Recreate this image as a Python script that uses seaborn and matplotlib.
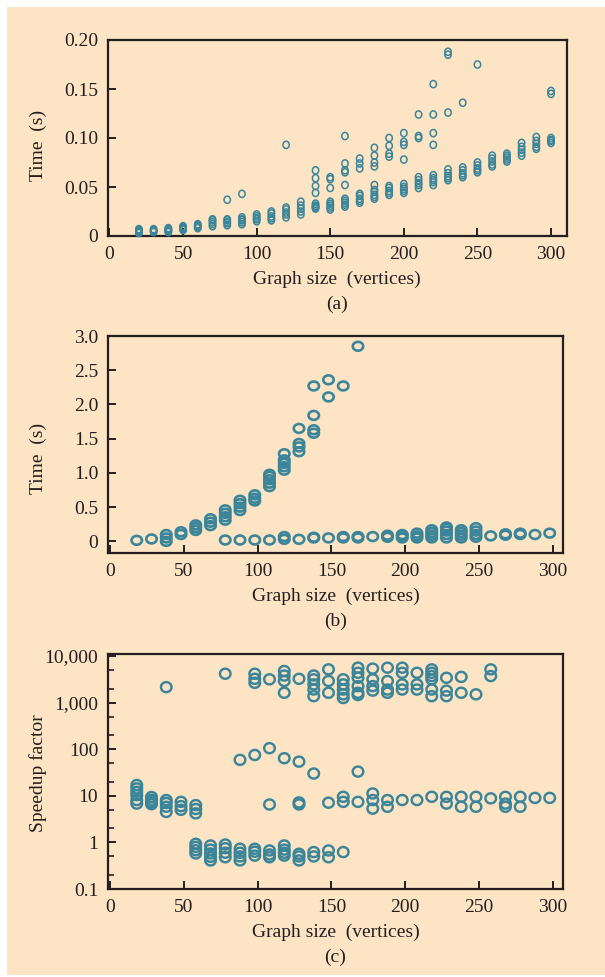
import numpy as np
import pandas as pd
import matplotlib
matplotlib.use("Agg")
import matplotlib.pyplot as plt
from matplotlib.path import Path
from matplotlib.patches import Rectangle
from matplotlib.ticker import LogLocator, NullFormatter
import seaborn as sns

PEACH = "#FCE4C4"
TEAL = "#3A8599"
INK = "#231F20"

# ---- (a) time vs graph size, fast algorithm ----
a_sizes = [20, 30, 40, 50, 60, 70, 80, 90, 100, 110, 120, 130, 140, 150, 160,
           170, 180, 190, 200, 210, 220, 230, 240, 250, 260, 270, 280, 290, 300]
a_main = [
    [0.003, 0.004, 0.005, 0.006, 0.007],
    [0.004, 0.005, 0.006, 0.007],
    [0.004, 0.005, 0.006, 0.007, 0.008],
    [0.006, 0.007, 0.008, 0.009, 0.010],
    [0.008, 0.009, 0.010, 0.011, 0.012],
    [0.010, 0.012, 0.014, 0.016, 0.017],
    [0.011, 0.013, 0.014, 0.016, 0.017],
    [0.012, 0.014, 0.016, 0.017, 0.019],
    [0.015, 0.017, 0.018, 0.020, 0.022],
    [0.016, 0.018, 0.020, 0.023, 0.025],
    [0.019, 0.022, 0.024, 0.027, 0.029],
    [0.022, 0.025, 0.028, 0.031, 0.035],
    [0.028, 0.029, 0.030, 0.031, 0.033],
    [0.027, 0.029, 0.031, 0.033, 0.035],
    [0.030, 0.032, 0.034, 0.036, 0.038],
    [0.034, 0.036, 0.038, 0.041, 0.043],
    [0.038, 0.040, 0.042, 0.045, 0.047, 0.052],
    [0.042, 0.044, 0.046, 0.049, 0.051],
    [0.044, 0.046, 0.048, 0.050, 0.053],
    [0.049, 0.052, 0.054, 0.057, 0.060],
    [0.052, 0.055, 0.057, 0.059, 0.062],
    [0.057, 0.059, 0.061, 0.064, 0.068],
    [0.060, 0.062, 0.064, 0.067, 0.070],
    [0.065, 0.067, 0.069, 0.072, 0.075],
    [0.071, 0.073, 0.076, 0.079, 0.082],
    [0.076, 0.078, 0.080, 0.082, 0.084],
    [0.082, 0.085, 0.088, 0.091, 0.095],
    [0.089, 0.091, 0.094, 0.097, 0.101],
    [0.095, 0.097, 0.098, 0.100],
]
a_out_x = [80, 90, 120, 140, 140, 140, 140, 150, 150, 150, 160, 160, 160, 160, 160,
           170, 170, 170, 180, 180, 180, 180, 190, 190, 190, 190, 200, 200, 200, 200,
           210, 210, 210, 220, 220, 220, 220, 230, 230, 230, 240, 250, 300, 300]
a_out_y = [0.037, 0.043, 0.093, 0.044, 0.051, 0.059, 0.067, 0.049, 0.058, 0.060,
           0.052, 0.065, 0.067, 0.074, 0.102, 0.069, 0.074, 0.079,
           0.071, 0.075, 0.082, 0.090, 0.081, 0.084, 0.092, 0.100,
           0.078, 0.093, 0.096, 0.105, 0.100, 0.102, 0.124,
           0.093, 0.105, 0.124, 0.155, 0.126, 0.185, 0.188, 0.136, 0.175, 0.145, 0.148]

# ---- (b) time vs graph size, two algorithms ----
b_slow_sizes = [18, 28, 38, 48, 58, 68, 78, 88, 98, 108, 118, 128, 138, 148, 158, 168]
b_slow = [
    [0.015], [0.035], [0.0, 0.05, 0.10], [0.10, 0.14], [0.16, 0.20, 0.24],
    [0.23, 0.28, 0.33], [0.31, 0.36, 0.41, 0.46], [0.45, 0.50, 0.55, 0.60],
    [0.59, 0.63, 0.68], [0.80, 0.85, 0.90, 0.95, 0.98], [1.04, 1.09, 1.14, 1.19, 1.28],
    [1.31, 1.38, 1.43, 1.65], [1.58, 1.63, 1.84, 2.27], [2.11, 2.36], [2.27], [2.85],
]
b_fast_sizes = [78, 88, 98, 108, 118, 128, 138, 148, 158, 168, 178, 188, 198, 208,
                218, 228, 238, 248, 258, 268, 278, 288, 298]
b_fast = [
    [0.02], [0.02], [0.02], [0.02], [0.03, 0.07], [0.03], [0.05, 0.06], [0.05],
    [0.05, 0.07], [0.05, 0.07], [0.07], [0.06, 0.09], [0.05, 0.08, 0.10],
    [0.05, 0.08, 0.12], [0.05, 0.09, 0.13, 0.17], [0.05, 0.10, 0.15, 0.19, 0.21],
    [0.05, 0.09, 0.13, 0.17], [0.06, 0.10, 0.15, 0.20], [0.08], [0.09, 0.11],
    [0.10, 0.12], [0.10], [0.12],
]

# ---- (c) speedup factor ----
c_sizes = [18, 28, 38, 48, 58, 68, 78, 88, 98, 108, 118, 128, 138, 148, 158,
           168, 178, 188, 198, 208, 218, 228, 238, 248, 258, 268, 278, 288, 298]
c_speedup = [
    [6.8, 8.1, 10.3, 12.2, 14.4, 17],
    [6.6, 7.3, 8.2, 9.4],
    [4.5, 5.8, 7.0, 8.1, 2140],
    [5.0, 6.0, 7.4],
    [4.2, 5.2, 6.3, 0.58, 0.68, 0.80, 0.93],
    [0.41, 0.49, 0.58, 0.70, 0.86],
    [0.48, 0.60, 0.75, 0.90, 4150],
    [0.41, 0.50, 0.60, 0.73, 59],
    [0.52, 0.63, 0.73, 75, 2650, 3230, 4150],
    [0.48, 0.55, 0.67, 6.5, 105, 3150],
    [0.52, 0.60, 0.70, 0.86, 64, 1620, 2900, 3800, 4750],
    [0.41, 0.50, 0.57, 6.5, 7.2, 54, 3230],
    [0.50, 0.62, 30, 1370, 1900, 2450, 3150, 3800],
    [0.48, 0.67, 7.1, 1620, 2900, 5150],
    [0.62, 7.4, 9.5, 1250, 1500, 1900, 2450, 3150],
    [7.4, 33, 1450, 1620, 2250, 3400, 4350, 5600],
    [5.3, 8.1, 11.2, 1800, 2250, 3150, 5350],
    [5.8, 8.1, 1620, 1900, 2900, 5600],
    [8.1, 1900, 2450, 4350, 5600],
    [8.1, 1900, 2450, 4350],
    [9.5, 1370, 1900, 3150, 3700, 4350, 5150],
    [6.8, 9.5, 1370, 1800, 3400],
    [5.8, 9.5, 1620, 3550],
    [5.8, 9.5, 1500],
    [8.8, 3700, 5150],
    [5.8, 6.8, 9.5],
    [5.8, 9.5],
    [9.0],
    [9.0],
]

x_ticks = [0, 50, 100, 150, 200, 250, 300]


def frame(sizes, groups):
    rows = [(s, v) for s, vals in zip(sizes, groups) for v in vals]
    return pd.DataFrame(rows, columns=["size", "value"])


def ellipse(w, h):
    t = np.linspace(0, 2 * np.pi, 65)
    return Path(np.column_stack([w * np.cos(t), h * np.sin(t)]), closed=True)


def dots(ax, df, marker, s, lw):
    sns.scatterplot(data=df, x="size", y="value", ax=ax, marker=marker, s=s,
                    facecolor="none", edgecolor=TEAL, linewidth=lw,
                    legend=False, clip_on=False, zorder=3)


def style(ax, ylabel, caption, w_px, h_px, ylab_frac):
    for sp in ax.spines.values():
        sp.set_visible(True)
        sp.set_linewidth(1.6)
        sp.set_color(INK)
    ax.tick_params(which="major", direction="in", length=6, width=1.4,
                   colors=INK, labelsize=14, pad=7, top=False, right=False)
    ax.set_xticks(x_ticks)
    ax.set_xticklabels([str(t) for t in x_ticks])
    ax.set_xlabel("Graph size  (vertices)", fontsize=14, color=INK)
    ax.xaxis.set_label_coords(0.5, -43.5 / h_px)
    ax.xaxis.label.set_va("center")
    ax.set_ylabel(ylabel, fontsize=14, color=INK)
    ax.yaxis.set_label_coords(-70 / w_px, ylab_frac)
    ax.yaxis.label.set_va("center")
    ax.annotate(caption, xy=(0.5, 0), xycoords="axes fraction",
                xytext=(0, -68 * 0.72), textcoords="offset points",
                ha="center", va="center", fontsize=14, color=INK)
    ax.set_facecolor(PEACH)
    ax.grid(False)


sns.set_theme(style="ticks")
plt.rcParams["font.family"] = ["Liberation Serif", "DejaVu Serif"]

W, H = 605, 977
fig = plt.figure(figsize=(W / 100, H / 100), dpi=100, facecolor="white")
fig.patches.append(Rectangle((7 / W, 2 / H), 598 / W, 968 / H, transform=fig.transFigure,
                             facecolor=PEACH, edgecolor="none", zorder=-10))


def axes_px(left, top, right, bottom):
    return fig.add_axes([left / W, 1 - bottom / H, (right - left) / W, (bottom - top) / H])


# (a)
ax_a = axes_px(108, 40, 566.5, 236)
dots(ax_a, frame(a_sizes, a_main), ellipse(0.88, 1.0), 27, 1.1)
dots(ax_a, pd.DataFrame({"size": a_out_x, "value": a_out_y}), ellipse(0.88, 1.0), 27, 1.1)
ax_a.set_xlim(-1, 310.5)
ax_a.set_ylim(0, 0.2)
ax_a.set_yticks([0, 0.05, 0.10, 0.15, 0.20])
ax_a.set_yticklabels(["0", "0.05", "0.10", "0.15", "0.20"])
style(ax_a, "Time  (s)", "(a)", 458.5, 196, 0.464)

# (b)
ax_b = axes_px(108, 336, 563, 553)
dots(ax_b, frame(b_slow_sizes, b_slow), ellipse(1.0, 0.85), 56, 1.9)
dots(ax_b, frame(b_fast_sizes, b_fast), ellipse(1.0, 0.85), 56, 1.9)
ax_b.set_xlim(-1.5, 307)
ax_b.set_ylim(-0.17, 3.0)
ax_b.set_yticks([0, 0.5, 1.0, 1.5, 2.0, 2.5, 3.0])
ax_b.set_yticklabels(["0", "0.5", "1.0", "1.5", "2.0", "2.5", "3.0"])
style(ax_b, "Time  (s)", "(b)", 455, 217, 0.438)

# (c)
ax_c = axes_px(108, 654, 563, 889)
ax_c.set_yscale("log")
dots(ax_c, frame(c_sizes, c_speedup), ellipse(1.0, 0.95), 58, 1.75)
ax_c.set_xlim(-1.5, 307)
ax_c.set_ylim(0.1, 11000)
ax_c.set_yticks([0.1, 1, 10, 100, 1000, 10000])
ax_c.set_yticklabels(["0.1", "1", "10", "100", "1,000", "10,000"])
ax_c.yaxis.set_minor_locator(LogLocator(base=10, subs=(2.0, 5.0)))
ax_c.yaxis.set_minor_formatter(NullFormatter())
style(ax_c, "Speedup factor", "(c)", 455, 235, 0.494)
ax_c.tick_params(which="minor", direction="in", length=4.5, width=1.2,
                 colors=INK, left=True, right=False)

fig.savefig("out.png", dpi=100, facecolor=fig.get_facecolor())
